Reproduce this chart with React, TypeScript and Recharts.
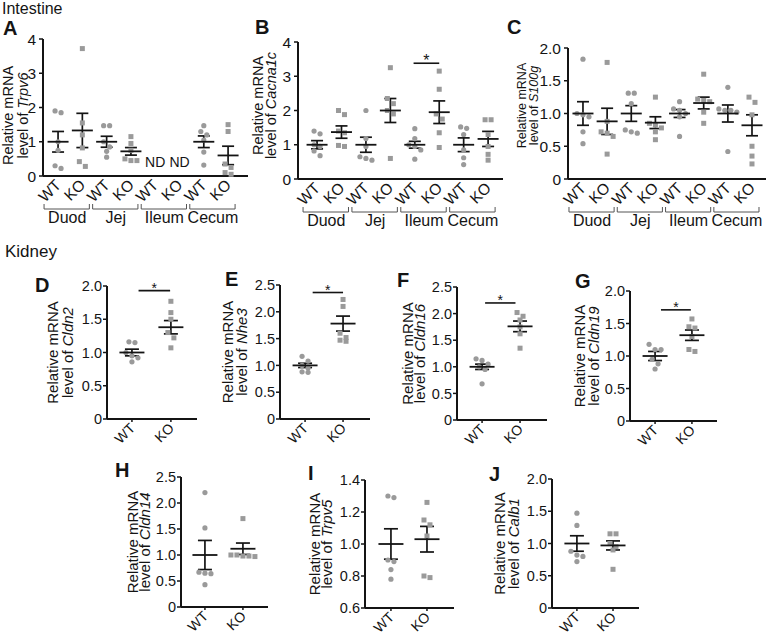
import React from 'react';
import { ComposedChart, Scatter, XAxis, YAxis, ErrorBar, ReferenceLine } from 'recharts';

// ---------------- DATA ----------------
const intestineGroups = ['Duod', 'Jej', 'Ileum', 'Cecum'];
const intestineCats = ['WT', 'KO', 'WT', 'KO', 'WT', 'KO', 'WT', 'KO'];
const kidneyCats = ['WT', 'KO'];

const ticks04 = [0, 1, 2, 3, 4];
const ticks02 = [0, 0.5, 1.0, 1.5, 2.0];
const ticks025 = [0, 0.5, 1.0, 1.5, 2.0, 2.5];
const ticksTrpv5 = [0.6, 0.8, 1.0, 1.2, 1.4];

// A: Trpv6 (intestine)
const trpv6Points: (number[] | null)[] = [
  [1.9, 1.85, 1.0, 0.75, 0.3, 0.22],
  [3.72, 1.55, 1.2, 0.82, 0.42, 0.28],
  [1.47, 1.47, 1.0, 0.85, 0.72, 0.55],
  [1.15, 0.95, 0.75, 0.5, 0.45, 0.45],
  null,
  null,
  [1.47, 1.3, 1.2, 1.05, 0.7, 0.32],
  [1.5, 1.3, 0.35, 0.25, 0.1, 0.05],
];
const trpv6Mean: (number | null)[] = [1.0, 1.33, 1.0, 0.72, null, null, 1.0, 0.6];
const trpv6Sem: (number | null)[] = [0.3, 0.5, 0.16, 0.11, null, null, 0.17, 0.27];
const trpv6ND = [4, 5];

// B: Cacna1c (intestine)
const cacna1cPoints: number[][] = [
  [1.4, 1.32, 1.0, 0.95, 0.82, 0.68],
  [2.0, 1.88, 1.4, 1.35, 0.98, 0.95],
  [2.0, 1.18, 0.95, 0.65, 0.6, 0.55],
  [3.25, 2.35, 2.2, 2.0, 1.9, 0.6],
  [1.47, 1.18, 1.0, 0.95, 0.85, 0.58],
  [3.15, 2.62, 1.9, 1.75, 1.35, 0.92],
  [1.52, 1.48, 1.3, 0.85, 0.62, 0.42],
  [1.73, 1.73, 1.3, 0.95, 0.72, 0.55],
];
const cacna1cMean = [1.0, 1.37, 1.0, 2.0, 1.0, 1.95, 1.0, 1.17];
const cacna1cSem = [0.12, 0.18, 0.22, 0.35, 0.1, 0.33, 0.2, 0.22];
const cacna1cSig = { from: 3.95, to: 5.0, y: 3.38 };

// C: S100g (intestine)
const s100gPoints: number[][] = [
  [1.83, 1.0, 0.98, 0.95, 0.72, 0.54],
  [1.78, 0.88, 0.72, 0.7, 0.65, 0.38],
  [1.31, 1.31, 1.15, 0.75, 0.72, 0.7],
  [1.25, 0.85, 0.82, 0.78, 0.72, 0.6],
  [1.18, 1.07, 1.05, 1.0, 0.95, 0.65],
  [1.6, 1.22, 1.2, 1.18, 1.02, 0.85],
  [1.4, 1.07, 1.05, 1.05, 1.02, 0.42],
  [1.25, 1.17, 0.98, 0.5, 0.35, 0.23],
];
const s100gMean = [1.0, 0.88, 1.0, 0.86, 1.0, 1.16, 1.0, 0.82];
const s100gSem = [0.18, 0.2, 0.12, 0.09, 0.06, 0.09, 0.13, 0.16];

// Kidney panels: [WT, KO]
const cldn2Points = [[1.16, 1.15, 1.0, 0.95, 0.92, 0.86], [1.77, 1.6, 1.5, 1.3, 1.22, 1.07]];
const cldn2Mean = [1.0, 1.38];
const cldn2Sem = [0.05, 0.1];
const cldn2Sig = { from: 0.17, to: 0.98, y: 1.93 };

const nhe3Points = [[1.17, 1.08, 1.0, 0.95, 0.88, 0.87], [2.23, 2.1, 1.6, 1.52, 1.47, 1.45]];
const nhe3Mean = [1.0, 1.78];
const nhe3Sem = [0.04, 0.14];
const nhe3Sig = { from: 0.2, to: 1.0, y: 2.36 };

const cldn16Points = [[1.15, 1.12, 1.05, 1.0, 0.95, 0.68], [2.02, 1.95, 1.88, 1.75, 1.62, 1.35]];
const cldn16Mean = [1.0, 1.76];
const cldn16Sem = [0.05, 0.1];
const cldn16Sig = { from: 0.08, to: 0.88, y: 2.2 };

const cldn19Points = [[1.18, 1.1, 1.1, 0.95, 0.88, 0.8], [1.57, 1.45, 1.43, 1.3, 1.1, 1.07]];
const cldn19Mean = [1.0, 1.32];
const cldn19Sem = [0.07, 0.08];
const cldn19Sig = { from: 0.16, to: 0.97, y: 1.71 };

const cldn14Points = [[2.2, 1.52, 0.67, 0.65, 0.64, 0.43], [1.7, 1.0, 1.0, 0.98, 0.98, 0.97]];
const cldn14Mean = [1.0, 1.12];
const cldn14Sem = [0.28, 0.11];

const trpv5Points = [[1.3, 1.29, 0.9, 0.89, 0.84, 0.78], [1.26, 1.15, 1.12, 1.05, 0.8, 0.79]];
const trpv5Mean = [1.0, 1.03];
const trpv5Sem = [0.095, 0.08];

const calb1Points = [[1.47, 1.28, 0.88, 0.82, 0.8, 0.72], [1.15, 1.15, 1.0, 0.95, 0.9, 0.6]];
const calb1Mean = [1.0, 0.97];
const calb1Sem = [0.12, 0.07];

// ---------------- RENDERING ----------------
const FONT = '"Liberation Sans", Arial, Helvetica, sans-serif';
const INK = '#141414';
const DOT = '#9a9a9a';

function swarmOffsets(vals: number[], pxU: number, pxC: number, d: number): number[] {
  const order = vals.map((_, i) => i).sort((a, b) => vals[b] - vals[a]);
  const off = new Array(vals.length).fill(0);
  let i = 0;
  while (i < order.length) {
    const row = [order[i]];
    let j = i + 1;
    while (j < order.length && (vals[order[i]] - vals[order[j]]) * pxU < d * 0.95) {
      row.push(order[j]);
      j++;
    }
    row.forEach((k, r) => {
      off[k] = ((r - (row.length - 1) / 2) * d) / pxC;
    });
    i = j;
  }
  return off;
}

type PanelProps = {
  L: number; T: number; R: number; B: number;
  yDomain: [number, number]; yTicks: number[]; yFmt: (v: number) => string;
  xDomain: [number, number]; cats: string[]; groups?: string[];
  points: (number[] | null)[]; means: (number | null)[]; sems: (number | null)[];
  sig?: { from: number; to: number; y: number };
  nd?: number[];
  tickFont: number; xFont: number; meanHalf: number; capHalf: number;
  intestine: boolean;
};

const fmt0 = (v: number) => (v === 0 ? '0' : v.toFixed(1));
const fmtInt = (v: number) => String(v);
const fmt1 = (v: number) => v.toFixed(1);

function Panel(p: PanelProps) {
  const WY = 60, MT = 12, MR = 4;
  const XH = p.intestine ? 60 : 34;
  const plotW = p.R - p.L;
  const plotH = p.B - p.T;
  const width = WY + plotW + MR;
  const height = MT + plotH + XH;
  const pxU = plotH / (p.yDomain[1] - p.yDomain[0]);
  const pxC = plotW / (p.xDomain[1] - p.xDomain[0]);
  const ay = MT + plotH;

  const renderTick = (t: any) => {
    const x = t.x as number;
    const i = Math.round(t.payload.value as number);
    const lx = x + 4;
    const ly = ay + 10;
    return (
      <g>
        <text x={lx} y={ly} transform={`rotate(-45 ${lx} ${ly})`} textAnchor="end"
          fontSize={p.xFont} fontFamily={FONT} fill={INK}>{p.cats[i]}</text>
        {p.groups && i % 2 === 0 ? (
          <g>
            <path d={`M${x - 14},${ay + 28} V${ay + 33} H${x + pxC + 7} V${ay + 28}`}
              fill="none" stroke="#555" strokeWidth={1} />
            <text x={x + pxC / 2 - 3} y={ay + 47} textAnchor="middle" fontSize={16}
              fontFamily={FONT} fill={INK}>{p.groups[i / 2]}</text>
          </g>
        ) : null}
      </g>
    );
  };

  const meansData = p.means
    .map((m, i) => (m == null ? null : { x: i, y: m, err: p.sems[i] as number }))
    .filter((d) => d != null) as { x: number; y: number; err: number }[];

  const circle = (s: any) => <circle cx={s.cx} cy={s.cy} r={2.6} fill={DOT} />;
  const square = (s: any) => <rect x={s.cx - 2.5} y={s.cy - 2.5} width={5} height={5} fill={DOT} />;
  const meanShape = (s: any) => (
    <line x1={s.cx - p.meanHalf} x2={s.cx + p.meanHalf} y1={s.cy} y2={s.cy} stroke={INK} strokeWidth={1.8} />
  );
  const starShape = (s: any) => (
    <text x={s.cx} y={s.cy + (p.intestine ? 3 : 2)} textAnchor="middle" fontSize={p.intestine ? 16 : 14}
      fontFamily={FONT} fill={INK} stroke="none">*</text>
  );
  const ndShape = (s: any) => (
    <text x={s.cx} y={s.cy + 5} textAnchor="middle" fontSize={14} fontFamily={FONT} fill={INK} stroke="none">ND</text>
  );

  return (
    <div style={{ position: 'absolute', left: p.L - WY, top: p.T - MT }}>
      <ComposedChart width={width} height={height} margin={{ top: MT, right: MR, bottom: 0, left: 0 }}>
        <XAxis type="number" dataKey="x" domain={p.xDomain}
          ticks={p.cats.map((_, i) => i)} interval={0} height={XH}
          axisLine={{ stroke: INK, strokeWidth: 2 }}
          tickLine={p.intestine ? false : { stroke: INK, strokeWidth: 1.5 }} tickSize={3}
          tick={renderTick} />
        <YAxis type="number" dataKey="y" domain={p.yDomain} ticks={p.yTicks}
          interval={0} width={WY} tickFormatter={p.yFmt}
          axisLine={{ stroke: INK, strokeWidth: 2 }} tickLine={{ stroke: INK, strokeWidth: 1.5 }}
          tickSize={4} tickMargin={p.intestine ? 3 : 1}
          tick={{ fontSize: p.tickFont, fontFamily: FONT, fill: INK }} />
        {p.points.map((pts, i) => {
          if (!pts) return null;
          const off = swarmOffsets(pts, pxU, pxC, 6);
          const data = pts.map((v, k) => ({ x: i + off[k], y: v }));
          return (
            <Scatter key={'pts' + i} data={data} shape={i % 2 === 0 ? circle : square}
              isAnimationActive={false} />
          );
        })}
        <Scatter data={meansData} shape={meanShape} isAnimationActive={false}>
          <ErrorBar dataKey="err" direction="y" width={p.capHalf} stroke={INK} strokeWidth={1.7} />
        </Scatter>
        {p.sig ? (
          <ReferenceLine segment={[{ x: p.sig.from, y: p.sig.y }, { x: p.sig.to, y: p.sig.y }]}
            stroke={INK} strokeWidth={1.6} ifOverflow="visible" />
        ) : null}
        {p.sig ? (
          <Scatter data={[{ x: (p.sig.from + p.sig.to) / 2, y: p.sig.y }]} shape={starShape}
            isAnimationActive={false} />
        ) : null}
        {p.nd ? (
          <Scatter data={p.nd.map((x) => ({ x, y: 0.4 }))} shape={ndShape} isAnimationActive={false} />
        ) : null}
      </ComposedChart>
    </div>
  );
}

type TitleSpec = { L: number; T: number; B: number; off1: number; off2: number; font: number; shift: number; gene: string };

function YTitle({ t }: { t: TitleSpec }) {
  const cy = (t.T + t.B) / 2 + t.shift;
  const x1 = t.L - t.off1 + t.font * 0.36;
  const x2 = t.L - t.off2 + t.font * 0.36;
  return (
    <g fontFamily={FONT} fontSize={t.font} fill={INK}>
      <text x={x1} y={cy} transform={`rotate(-90 ${x1} ${cy})`} textAnchor="middle">Relative mRNA</text>
      <text x={x2} y={cy} transform={`rotate(-90 ${x2} ${cy})`} textAnchor="middle">
        level of <tspan fontStyle="italic">{t.gene}</tspan>
      </text>
    </g>
  );
}

const kid = { tickFont: 14.5, xFont: 14, meanHalf: 12.5, capHalf: 7, intestine: false, cats: kidneyCats };
const intest = { tickFont: 15.5, xFont: 15.5, meanHalf: 10.5, capHalf: 6, intestine: true, cats: intestineCats, groups: intestineGroups };

const letters: [string, number, number][] = [
  ['A', 3, 35], ['B', 255, 34], ['C', 507, 34],
  ['D', 35, 292], ['E', 225, 286], ['F', 397, 287], ['G', 575, 288],
  ['H', 115, 477], ['I', 308, 480], ['J', 489, 481],
];

const titles: TitleSpec[] = [
  { L: 43, T: 39, B: 176, off1: 35, off2: 20, font: 14.5, shift: 8, gene: 'Trpv6' },
  { L: 298, T: 42, B: 179, off1: 40, off2: 27, font: 14.5, shift: -5, gene: 'Cacna1c' },
  { L: 568, T: 48, B: 179, off1: 47, off2: 35, font: 12.5, shift: -8, gene: 'S100g' },
  { L: 107, T: 286, B: 419, off1: 54, off2: 39, font: 15, shift: 0, gene: 'Cldn2' },
  { L: 280, T: 285, B: 419, off1: 52, off2: 38, font: 15, shift: 0, gene: 'Nhe3' },
  { L: 457, T: 287, B: 420, off1: 49, off2: 37, font: 15, shift: 0, gene: 'Cldn16' },
  { L: 630, T: 291, B: 421, off1: 50, off2: 36, font: 15, shift: 0, gene: 'Cldn19' },
  { L: 181, T: 477, B: 607, off1: 48, off2: 36, font: 15, shift: 0, gene: 'Cldn14' },
  { L: 365, T: 480, B: 608, off1: 50, off2: 38, font: 15, shift: 0, gene: 'Trpv5' },
  { L: 552, T: 479, B: 608, off1: 52, off2: 38, font: 15, shift: 0, gene: 'Calb1' },
];

export default function App() {
  return (
    <div style={{ position: 'absolute', left: 0, top: 0, width: 768, height: 636, background: '#fff', overflow: 'hidden' }}>
      <Panel {...intest} L={43} T={39} R={248} B={176} yDomain={[0, 4]} yTicks={ticks04} yFmt={fmtInt}
        xDomain={[-0.62, 7.82]} points={trpv6Points} means={trpv6Mean} sems={trpv6Sem} nd={trpv6ND} />
      <Panel {...intest} L={298} T={42} R={503} B={179} yDomain={[0, 4]} yTicks={ticks04} yFmt={fmtInt}
        xDomain={[-0.78, 7.61]} points={cacna1cPoints} means={cacna1cMean} sems={cacna1cSem} sig={cacna1cSig} />
      <Panel {...intest} L={568} T={48} R={766} B={179} yDomain={[0, 2]} yTicks={ticks02} yFmt={fmt0}
        xDomain={[-0.62, 7.58]} points={s100gPoints} means={s100gMean} sems={s100gSem} />

      <Panel {...kid} L={107} T={286} R={197} B={419} yDomain={[0, 2]} yTicks={ticks02} yFmt={fmt0}
        xDomain={[-0.64, 1.67]} points={cldn2Points} means={cldn2Mean} sems={cldn2Sem} sig={cldn2Sig} />
      <Panel {...kid} L={280} T={285} R={370} B={419} yDomain={[0, 2.5]} yTicks={ticks025} yFmt={fmt0}
        xDomain={[-0.66, 1.71]} points={nhe3Points} means={nhe3Mean} sems={nhe3Sem} sig={nhe3Sig} />
      <Panel {...kid} L={457} T={287} R={547} B={420} yDomain={[0, 2.5]} yTicks={ticks025} yFmt={fmt0}
        xDomain={[-0.66, 1.71]} points={cldn16Points} means={cldn16Mean} sems={cldn16Sem} sig={cldn16Sig} />
      <Panel {...kid} L={630} T={291} R={717} B={421} yDomain={[0, 2]} yTicks={ticks02} yFmt={fmt0}
        xDomain={[-0.68, 1.68]} points={cldn19Points} means={cldn19Mean} sems={cldn19Sem} sig={cldn19Sig} />
      <Panel {...kid} L={181} T={477} R={268} B={607} yDomain={[0, 2.5]} yTicks={ticks025} yFmt={fmt0}
        xDomain={[-0.63, 1.66]} points={cldn14Points} means={cldn14Mean} sems={cldn14Sem} />
      <Panel {...kid} L={365} T={480} R={454} B={608} yDomain={[0.6, 1.4]} yTicks={ticksTrpv5} yFmt={fmt1}
        xDomain={[-0.72, 1.75]} points={trpv5Points} means={trpv5Mean} sems={trpv5Sem} />
      <Panel {...kid} L={552} T={479} R={639} B={608} yDomain={[0, 2]} yTicks={ticks02} yFmt={fmt0}
        xDomain={[-0.69, 1.72]} points={calb1Points} means={calb1Mean} sems={calb1Sem} />

      <svg width={768} height={636} style={{ position: 'absolute', left: 0, top: 0, pointerEvents: 'none' }}>
        <text x={2} y={14} fontFamily={FONT} fontSize={16} fill={INK}>Intestine</text>
        <text x={5} y={257} fontFamily={FONT} fontSize={17} fill={INK}>Kidney</text>
        {letters.map(([l, x, y]) => (
          <text key={l} x={x} y={y} fontFamily={FONT} fontSize={20} fontWeight="bold" fill={INK}>{l}</text>
        ))}
        {titles.map((t) => <YTitle key={t.gene} t={t} />)}
      </svg>
    </div>
  );
}
